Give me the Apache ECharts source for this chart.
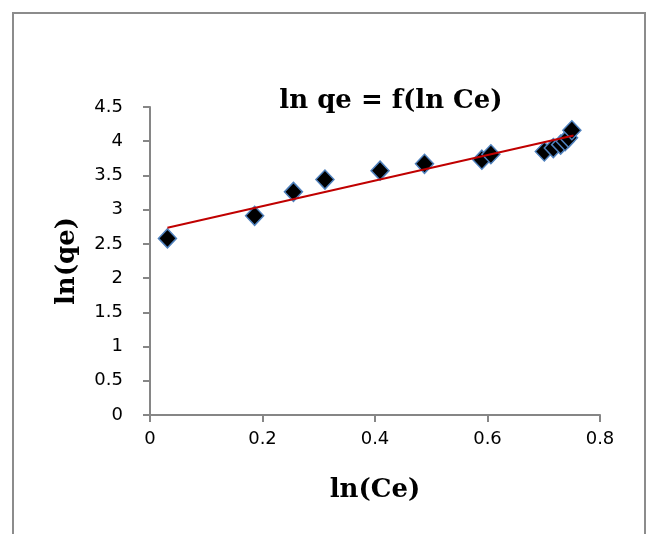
<!DOCTYPE html>
<html>
<head>
<meta charset="utf-8">
<script src="https://cdn.jsdelivr.net/npm/echarts@6/dist/echarts.min.js"></script>
<style>
  html, body { margin: 0; padding: 0; background: #fff; }
  #chart { width: 651px; height: 534px; }
</style>
</head>
<body>
<div id="chart"></div>
<script>
// ln(Ce) / ln(qe) points
var lnCe = [0.031, 0.186, 0.255, 0.311, 0.409, 0.488, 0.590, 0.606, 0.701, 0.717, 0.730, 0.738, 0.744, 0.750];
var lnQe = [2.58, 2.91, 3.26, 3.44, 3.57, 3.67, 3.73, 3.81, 3.85, 3.90, 3.95, 4.00, 4.05, 4.16];
// linear trend line end points
var trendX = [0.031, 0.753];
var trendY = [2.735, 4.083];
var xTicks = [0, 0.2, 0.4, 0.6, 0.8];
var yTicks = [0, 0.5, 1, 1.5, 2, 2.5, 3, 3.5, 4, 4.5];

var points = lnCe.map(function (x, i) { return [x, lnQe[i]]; });
var trend = trendX.map(function (x, i) { return [x, trendY[i]]; });

var axisGray = "#868686";
var chart = echarts.init(document.getElementById("chart"));
chart.setOption({
  animation: false,
  title: {
    text: "ln qe = f(ln Ce)",
    left: 386,
    top: 83,
    textAlign: "center",
    textStyle: {
      fontFamily: "DejaVu Serif",
      fontWeight: "bold",
      fontSize: 26,
      color: "#000"
    }
  },
  grid: { left: 150, right: 51, top: 107, bottom: 119 },
  xAxis: {
    type: "value",
    min: xTicks[0],
    max: xTicks[xTicks.length - 1],
    interval: 0.2,
    name: "ln(Ce)",
    nameLocation: "middle",
    nameGap: 62,
    nameTextStyle: {
      fontFamily: "DejaVu Serif",
      fontWeight: "bold",
      fontSize: 26,
      color: "#000"
    },
    axisLine: { show: true, lineStyle: { color: axisGray, width: 2 } },
    axisTick: { show: true, length: 7, lineStyle: { color: axisGray, width: 2 } },
    axisLabel: {
      margin: 15,
      fontFamily: "DejaVu Sans",
      fontSize: 18,
      color: "#000"
    },
    splitLine: { show: false }
  },
  yAxis: {
    type: "value",
    min: yTicks[0],
    max: yTicks[yTicks.length - 1],
    interval: 0.5,
    name: "ln(qe)",
    nameLocation: "middle",
    nameGap: 70,
    nameTextStyle: {
      fontFamily: "DejaVu Serif",
      fontWeight: "bold",
      fontSize: 26,
      color: "#000"
    },
    axisLine: { show: true, lineStyle: { color: axisGray, width: 2 } },
    axisTick: { show: true, length: 7, lineStyle: { color: axisGray, width: 2 } },
    axisLabel: {
      margin: 27,
      fontFamily: "DejaVu Sans",
      fontSize: 18,
      color: "#000"
    },
    splitLine: { show: false }
  },
  graphic: [
    {
      type: "rect",
      shape: { x: 13, y: 13, width: 632, height: 600 },
      style: { fill: "none", stroke: "#8c8c8c", lineWidth: 2 },
      silent: true
    }
  ],
  series: [
    {
      type: "scatter",
      data: points,
      symbol: "diamond",
      symbolSize: [18, 19],
      itemStyle: { color: "#000", opacity: 1, borderColor: "#4f81bd", borderWidth: 1.5 }
    },
    {
      type: "line",
      data: trend,
      symbol: "none",
      lineStyle: { color: "#c00000", width: 2 },
      z: 5
    }
  ]
});
</script>
</body>
</html>
